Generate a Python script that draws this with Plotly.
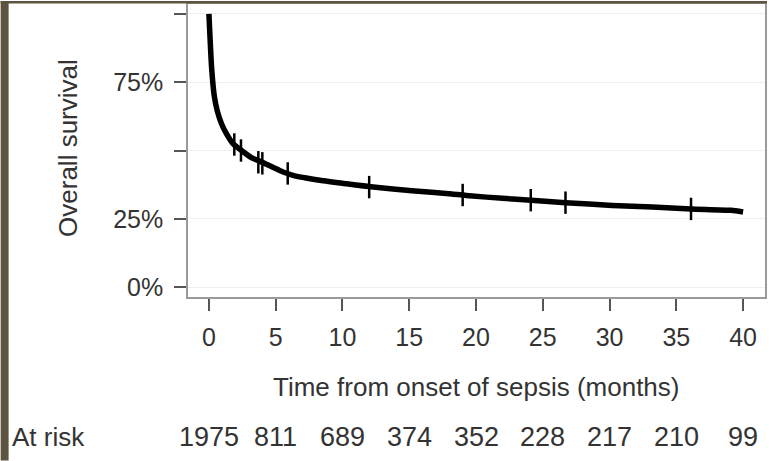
import plotly.graph_objects as go

# Kaplan-Meier curve (months, % surviving)
time_months = [0, 0.07, 0.2, 0.4, 0.62, 0.95, 1.32, 1.82, 2.44, 3.18, 4.3, 5.3, 6.3,
               8.3, 10.3, 12.3, 15.2, 18.2, 19.5, 22.0, 24.1, 26.7, 30.2, 33.2, 36.1,
               39.1, 40.0]
survival_pct = [100, 92.6, 80.4, 70.0, 64.6, 59.7, 56.1, 52.4, 50.0, 47.4, 45.0, 42.7, 40.9,
                39.1, 37.8, 36.6, 35.3, 34.1, 33.4, 32.5, 31.8, 30.9, 29.9, 29.3, 28.6,
                28.1, 27.5]

# censoring marks
censor_time = [1.9, 2.4, 3.7, 4.0, 5.9, 12.0, 19.0, 24.1, 26.7, 36.1]
censor_pct = [52.2, 50.0, 45.7, 45.3, 41.6, 36.6, 33.7, 31.8, 30.9, 28.6]

# axis ticks
x_ticks = [0, 5, 10, 15, 20, 25, 30, 35, 40]
y_ticks = [0, 25, 50, 75, 100]
y_tick_text = ["0%", "25%", "", "75%", ""]

# number at risk
at_risk = [1975, 811, 689, 374, 352, 228, 217, 210, 99]

W, H = 769, 461
ML, MR, MT, MB = 188, 2, 3, 164
PW, PH = W - ML - MR, H - MT - MB
TXT = "#333333"
FONT = "Liberation Sans, Arial, sans-serif"


def px_x(px):
    return (px - ML) / PW


def px_y(py):
    return (H - MB - py) / PH


fig = go.Figure()
fig.add_trace(go.Scatter(x=time_months, y=survival_pct, mode="lines",
                         line=dict(color="black", width=5.5, shape="spline", smoothing=0.6),
                         hoverinfo="skip", showlegend=False))
fig.add_trace(go.Scatter(x=censor_time, y=censor_pct, mode="markers",
                         marker=dict(symbol="line-ns", size=16,
                                     line=dict(color="black", width=2.5)),
                         hoverinfo="skip", showlegend=False))

annotations = []
for t, n in zip(x_ticks, at_risk):
    annotations.append(dict(x=t, xref="x", y=px_y(437), yref="paper", text=str(n),
                            showarrow=False, xanchor="center", yanchor="middle",
                            font=dict(size=27, color=TXT, family=FONT)))
annotations.append(dict(x=px_x(9), xref="paper", y=px_y(437), yref="paper", text="At risk",
                        showarrow=False, xanchor="left", yanchor="middle",
                        font=dict(size=26, color=TXT, family=FONT)))
annotations.append(dict(x=px_x(477), xref="paper", y=px_y(387), yref="paper",
                        text="Time from onset of sepsis (months)",
                        showarrow=False, xanchor="center", yanchor="middle",
                        font=dict(size=26, color=TXT, family=FONT)))
annotations.append(dict(x=px_x(67), xref="paper", y=px_y(147), yref="paper",
                        text="Overall survival", textangle=-90,
                        showarrow=False, xanchor="center", yanchor="middle",
                        font=dict(size=26, color=TXT, family=FONT)))

shapes = [
    dict(type="rect", xref="paper", yref="paper", x0=px_x(0), x1=px_x(8),
         y0=px_y(461), y1=px_y(0), fillcolor="#5e5341", line=dict(width=0), layer="above"),
    dict(type="rect", xref="paper", yref="paper", x0=px_x(0), x1=px_x(769),
         y0=px_y(2.5), y1=px_y(0), fillcolor="#5e5341", line=dict(width=0), layer="above"),
]

fig.update_layout(
    width=W, height=H,
    margin=dict(l=ML, r=MR, t=MT, b=MB, pad=0),
    paper_bgcolor="white", plot_bgcolor="white",
    font=dict(family=FONT, color=TXT),
    annotations=annotations, shapes=shapes,
    xaxis=dict(range=[-1.567, 41.64], tickvals=x_ticks, ticks="outside", ticklen=12,
               tickwidth=2, tickcolor="#555", showgrid=False, zeroline=False,
               showline=True, linecolor="#9a9a9a", linewidth=1.5, mirror=True,
               tickfont=dict(size=25, color=TXT), ticklabelstandoff=5),
    yaxis=dict(range=[-3.65, 103.65], tickvals=y_ticks, ticktext=y_tick_text,
               ticks="outside", ticklen=12, tickwidth=2, tickcolor="#555",
               showgrid=True, gridcolor="#efefef", gridwidth=1, zeroline=False,
               showline=True, linecolor="#9a9a9a", linewidth=1.5, mirror=True,
               tickfont=dict(size=25, color=TXT), ticklabelstandoff=6),
)

fig.write_html("out.html")
